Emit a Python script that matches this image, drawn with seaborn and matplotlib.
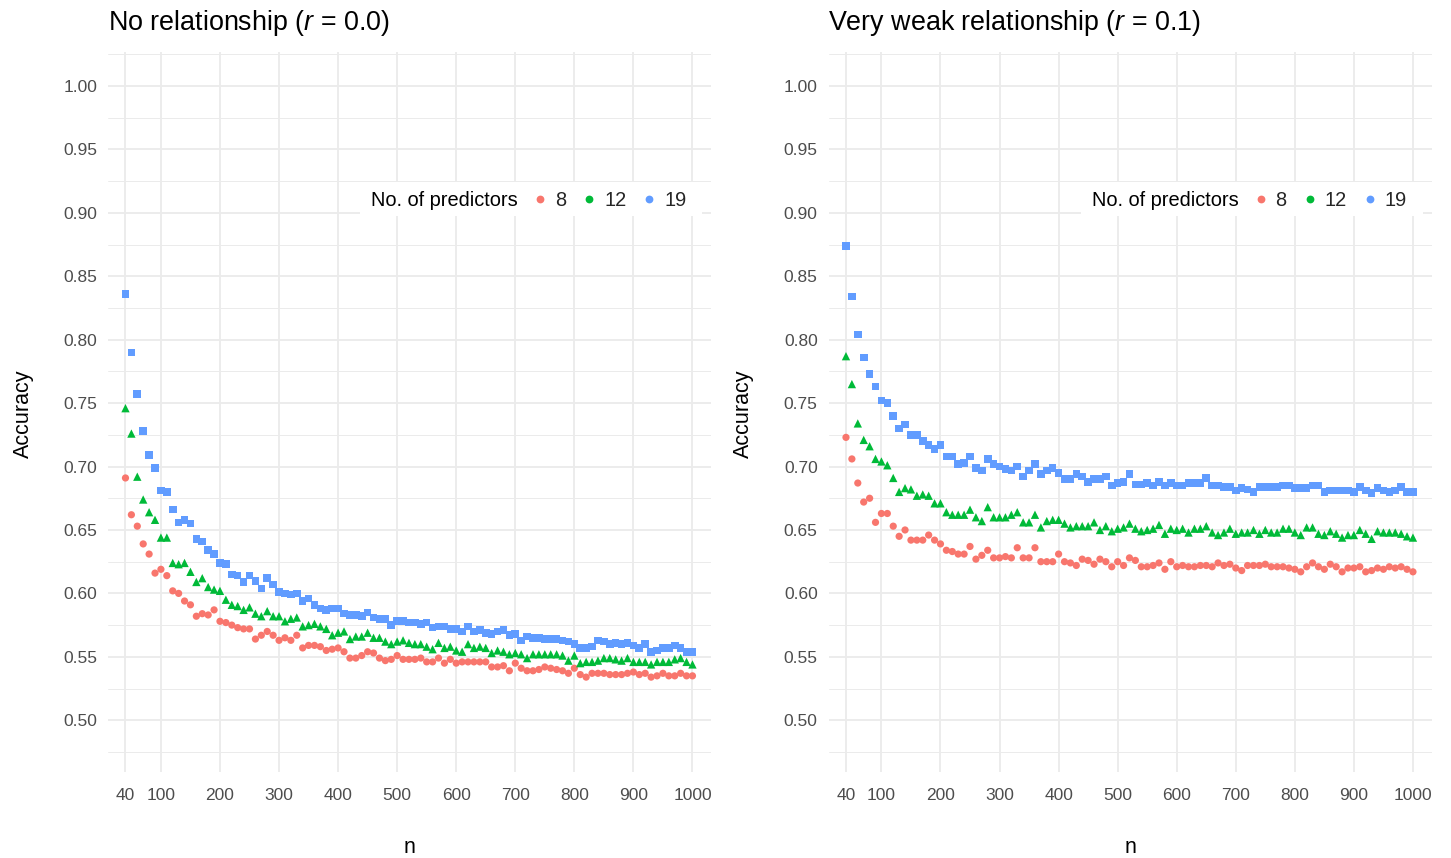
import matplotlib
matplotlib.use("Agg")
import matplotlib.pyplot as plt
import seaborn as sns
import pandas as pd
import numpy as np
from matplotlib.lines import Line2D
from matplotlib.patches import Rectangle
from matplotlib.ticker import FixedLocator

# ---------------- data ----------------
n_values = [40, 50, 60, 70, 80, 90, 100, 110, 120, 130,
            140, 150, 160, 170, 180, 190, 200, 210, 220, 230,
            240, 250, 260, 270, 280, 290, 300, 310, 320, 330,
            340, 350, 360, 370, 380, 390, 400, 410, 420, 430,
            440, 450, 460, 470, 480, 490, 500, 510, 520, 530,
            540, 550, 560, 570, 580, 590, 600, 610, 620, 630,
            640, 650, 660, 670, 680, 690, 700, 710, 720, 730,
            740, 750, 760, 770, 780, 790, 800, 810, 820, 830,
            840, 850, 860, 870, 880, 890, 900, 910, 920, 930,
            940, 950, 960, 970, 980, 990, 1000]

predictors = ["8", "12", "19"]

r0_p8 = [0.691, 0.662, 0.653, 0.639, 0.631, 0.616, 0.619, 0.614, 0.602, 0.600,
         0.594, 0.591, 0.582, 0.584, 0.583, 0.587, 0.578, 0.577, 0.575, 0.573,
         0.572, 0.572, 0.564, 0.567, 0.570, 0.567, 0.563, 0.565, 0.563, 0.567,
         0.557, 0.559, 0.559, 0.558, 0.555, 0.556, 0.557, 0.554, 0.549, 0.549,
         0.551, 0.554, 0.553, 0.549, 0.547, 0.548, 0.551, 0.548, 0.548, 0.548,
         0.549, 0.546, 0.546, 0.549, 0.545, 0.548, 0.545, 0.546, 0.546, 0.546,
         0.546, 0.546, 0.542, 0.542, 0.543, 0.539, 0.545, 0.541, 0.539, 0.539,
         0.540, 0.542, 0.541, 0.540, 0.539, 0.537, 0.541, 0.536, 0.534, 0.537,
         0.537, 0.537, 0.536, 0.536, 0.536, 0.537, 0.538, 0.536, 0.537, 0.534,
         0.535, 0.537, 0.535, 0.535, 0.537, 0.535, 0.535]
r0_p12 = [0.746, 0.726, 0.692, 0.674, 0.664, 0.658, 0.644, 0.644, 0.624, 0.623,
          0.624, 0.617, 0.609, 0.612, 0.605, 0.603, 0.602, 0.595, 0.591, 0.590,
          0.587, 0.589, 0.584, 0.582, 0.586, 0.582, 0.582, 0.578, 0.580, 0.581,
          0.574, 0.575, 0.576, 0.574, 0.572, 0.567, 0.569, 0.570, 0.564, 0.566,
          0.566, 0.569, 0.565, 0.565, 0.562, 0.560, 0.562, 0.563, 0.561, 0.560,
          0.560, 0.558, 0.556, 0.561, 0.557, 0.558, 0.555, 0.554, 0.560, 0.557,
          0.558, 0.557, 0.553, 0.555, 0.554, 0.552, 0.553, 0.552, 0.549, 0.552,
          0.552, 0.552, 0.552, 0.552, 0.551, 0.547, 0.551, 0.545, 0.546, 0.546,
          0.547, 0.549, 0.549, 0.548, 0.547, 0.549, 0.546, 0.546, 0.546, 0.544,
          0.546, 0.546, 0.546, 0.548, 0.549, 0.546, 0.544]
r0_p19 = [0.836, 0.790, 0.757, 0.728, 0.709, 0.699, 0.681, 0.680, 0.666, 0.656,
          0.658, 0.655, 0.643, 0.641, 0.634, 0.631, 0.624, 0.623, 0.615, 0.614,
          0.609, 0.614, 0.610, 0.604, 0.612, 0.607, 0.601, 0.600, 0.599, 0.600,
          0.594, 0.596, 0.591, 0.588, 0.587, 0.588, 0.588, 0.584, 0.583, 0.583,
          0.582, 0.585, 0.581, 0.580, 0.580, 0.575, 0.578, 0.578, 0.577, 0.577,
          0.576, 0.577, 0.573, 0.574, 0.574, 0.572, 0.572, 0.570, 0.574, 0.570,
          0.571, 0.569, 0.568, 0.570, 0.571, 0.567, 0.568, 0.563, 0.566, 0.565,
          0.565, 0.564, 0.564, 0.564, 0.563, 0.562, 0.560, 0.557, 0.557, 0.558,
          0.563, 0.562, 0.560, 0.561, 0.560, 0.561, 0.559, 0.557, 0.560, 0.554,
          0.555, 0.557, 0.557, 0.559, 0.557, 0.554, 0.554]

r1_p8 = [0.723, 0.706, 0.687, 0.672, 0.675, 0.656, 0.663, 0.663, 0.653, 0.645,
         0.650, 0.642, 0.642, 0.642, 0.646, 0.642, 0.639, 0.634, 0.633, 0.631,
         0.631, 0.637, 0.627, 0.630, 0.634, 0.628, 0.628, 0.629, 0.628, 0.636,
         0.628, 0.628, 0.636, 0.625, 0.625, 0.625, 0.631, 0.625, 0.624, 0.622,
         0.627, 0.626, 0.623, 0.627, 0.625, 0.621, 0.625, 0.622, 0.628, 0.626,
         0.621, 0.621, 0.622, 0.624, 0.619, 0.625, 0.621, 0.622, 0.621, 0.621,
         0.622, 0.622, 0.621, 0.624, 0.622, 0.623, 0.620, 0.618, 0.622, 0.622,
         0.622, 0.623, 0.621, 0.621, 0.621, 0.620, 0.619, 0.617, 0.621, 0.624,
         0.621, 0.619, 0.623, 0.621, 0.617, 0.620, 0.620, 0.621, 0.617, 0.618,
         0.620, 0.619, 0.621, 0.620, 0.621, 0.619, 0.617]
r1_p12 = [0.787, 0.765, 0.734, 0.721, 0.716, 0.706, 0.704, 0.701, 0.691, 0.680,
          0.683, 0.682, 0.677, 0.678, 0.677, 0.671, 0.671, 0.664, 0.662, 0.662,
          0.662, 0.666, 0.660, 0.657, 0.668, 0.660, 0.660, 0.660, 0.662, 0.664,
          0.656, 0.656, 0.662, 0.652, 0.657, 0.658, 0.658, 0.655, 0.652, 0.653,
          0.653, 0.653, 0.656, 0.650, 0.653, 0.649, 0.651, 0.652, 0.655, 0.651,
          0.649, 0.650, 0.651, 0.654, 0.647, 0.651, 0.650, 0.651, 0.648, 0.651,
          0.651, 0.653, 0.648, 0.646, 0.648, 0.651, 0.647, 0.648, 0.648, 0.650,
          0.647, 0.650, 0.648, 0.648, 0.651, 0.651, 0.648, 0.646, 0.652, 0.652,
          0.647, 0.646, 0.649, 0.647, 0.644, 0.646, 0.646, 0.650, 0.647, 0.643,
          0.649, 0.648, 0.648, 0.648, 0.647, 0.645, 0.644]
r1_p19 = [0.874, 0.834, 0.804, 0.786, 0.773, 0.763, 0.752, 0.750, 0.740, 0.730,
          0.733, 0.725, 0.725, 0.720, 0.717, 0.714, 0.717, 0.708, 0.708, 0.702,
          0.703, 0.708, 0.699, 0.697, 0.706, 0.702, 0.700, 0.698, 0.697, 0.700,
          0.692, 0.697, 0.702, 0.694, 0.697, 0.699, 0.695, 0.690, 0.690, 0.694,
          0.692, 0.688, 0.690, 0.690, 0.692, 0.685, 0.687, 0.688, 0.694, 0.686,
          0.686, 0.687, 0.685, 0.688, 0.685, 0.687, 0.685, 0.685, 0.687, 0.687,
          0.687, 0.691, 0.685, 0.685, 0.684, 0.684, 0.681, 0.683, 0.682, 0.680,
          0.684, 0.684, 0.684, 0.684, 0.685, 0.685, 0.683, 0.683, 0.683, 0.685,
          0.685, 0.680, 0.681, 0.681, 0.681, 0.681, 0.680, 0.684, 0.681, 0.679,
          0.683, 0.681, 0.680, 0.681, 0.684, 0.680, 0.680]

panel_titles = ["No relationship ($r$ = 0.0)", "Very weak relationship ($r$ = 0.1)"]
x_ticks = [40, 100, 200, 300, 400, 500, 600, 700, 800, 900, 1000]
y_ticks = [0.50, 0.55, 0.60, 0.65, 0.70, 0.75, 0.80, 0.85, 0.90, 0.95, 1.00]
y_minor = [0.475, 0.525, 0.575, 0.625, 0.675, 0.725, 0.775, 0.825, 0.875, 0.925, 0.975, 1.025]

# ---------------- style ----------------
sns.set_style("white")
plt.rcParams["font.family"] = ["Liberation Sans", "DejaVu Sans"]
plt.rcParams["mathtext.fontset"] = "custom"
plt.rcParams["mathtext.rm"] = "Liberation Sans"
plt.rcParams["mathtext.it"] = "Liberation Sans:italic"

palette = {"8": "#F8766D", "12": "#00BA38", "19": "#619CFF"}
markers = {"8": "o", "12": "^", "19": "s"}
sizes = {"8": 27, "12": 36, "19": 30}

W, H = 1451, 858
fig = plt.figure(figsize=(W / 100, H / 100), dpi=100)

panels = [
    {"data": [r0_p8, r0_p12, r0_p19], "left": 108.0},
    {"data": [r1_p8, r1_p12, r1_p19], "left": 828.5},
]
ax_w, ax_top, ax_bot = 603.0, 52.0, 772.0

for i, p in enumerate(panels):
    rows = []
    for pred, vals in zip(predictors, p["data"]):
        for nv, v in zip(n_values, vals):
            rows.append({"n": nv, "Accuracy": v, "pred": pred})
    df = pd.DataFrame(rows)

    left = p["left"]
    ax = fig.add_axes([left / W, 1 - ax_bot / H, ax_w / W, (ax_bot - ax_top) / H])
    sns.scatterplot(data=df, x="n", y="Accuracy", hue="pred", style="pred",
                    size="pred", sizes=sizes, hue_order=predictors,
                    style_order=predictors, size_order=predictors,
                    palette=palette, markers=markers, linewidth=0,
                    legend=False, ax=ax, zorder=3)

    ax.set_xlim(10.4, 1031.4)
    ax.set_ylim(0.4592, 1.0268)
    ax.set_xticks(x_ticks)
    ax.set_xticklabels([str(t) for t in x_ticks])
    ax.set_yticks(y_ticks)
    ax.set_yticklabels([f"{t:.2f}" for t in y_ticks])
    ax.yaxis.set_minor_locator(FixedLocator(y_minor))
    ax.grid(which="major", color="#EBEBEB", linewidth=1.3, zorder=0)
    ax.grid(which="minor", axis="y", color="#EBEBEB", linewidth=0.7, zorder=0)
    ax.set_axisbelow(True)
    for s in ax.spines.values():
        s.set_visible(False)
    ax.tick_params(which="minor", length=0)
    ax.tick_params(axis="both", which="major", length=4.3, width=1.0,
                   color="#333333", labelcolor="#4D4D4D", labelsize=12.5)
    ax.tick_params(axis="y", pad=3.5)
    ax.tick_params(axis="x", pad=7.5)
    ax.set_xlabel("")
    ax.set_ylabel("")

    # legend background box
    def fx(px):
        return (px - left) / ax_w

    def fy(py):
        return 1 - (py - ax_top) / (ax_bot - ax_top)

    rect = Rectangle((fx(left + 252), fy(216)), fx(left + 594) - fx(left + 252),
                     fy(182) - fy(216), transform=ax.transAxes,
                     facecolor="white", edgecolor="none", zorder=4)
    ax.add_patch(rect)
    ax.text(fx(left + 263), fy(200.5), "No. of predictors", transform=ax.transAxes,
            ha="left", va="center", fontsize=14.4, color="black", zorder=5)
    handles = [Line2D([], [], linestyle="none", marker="o", markersize=5.6,
                      markerfacecolor=palette[k], markeredgewidth=0)
               for k in predictors]
    leg = ax.legend(handles, predictors, loc="center left",
                    bbox_to_anchor=(fx(left + 426), fy(200.5)), ncol=3,
                    frameon=False, fontsize=14.4, handlelength=0.6,
                    handletextpad=0.45, columnspacing=0.85, borderpad=0,
                    borderaxespad=0)
    leg.set_zorder(6)

    fig.text(left / W, 1 - 30 / H, panel_titles[i], ha="left", va="baseline",
             fontsize=19.4, color="black")
    fig.text((left - 85) / W, 1 - 414 / H, "Accuracy", rotation=90,
             ha="center", va="center", fontsize=15.5, color="black")
    fig.text((left + ax_w / 2) / W, 1 - 853 / H, "n", ha="center",
             va="baseline", fontsize=15.5, color="black")

fig.savefig("out.png", dpi=100, facecolor="white")
